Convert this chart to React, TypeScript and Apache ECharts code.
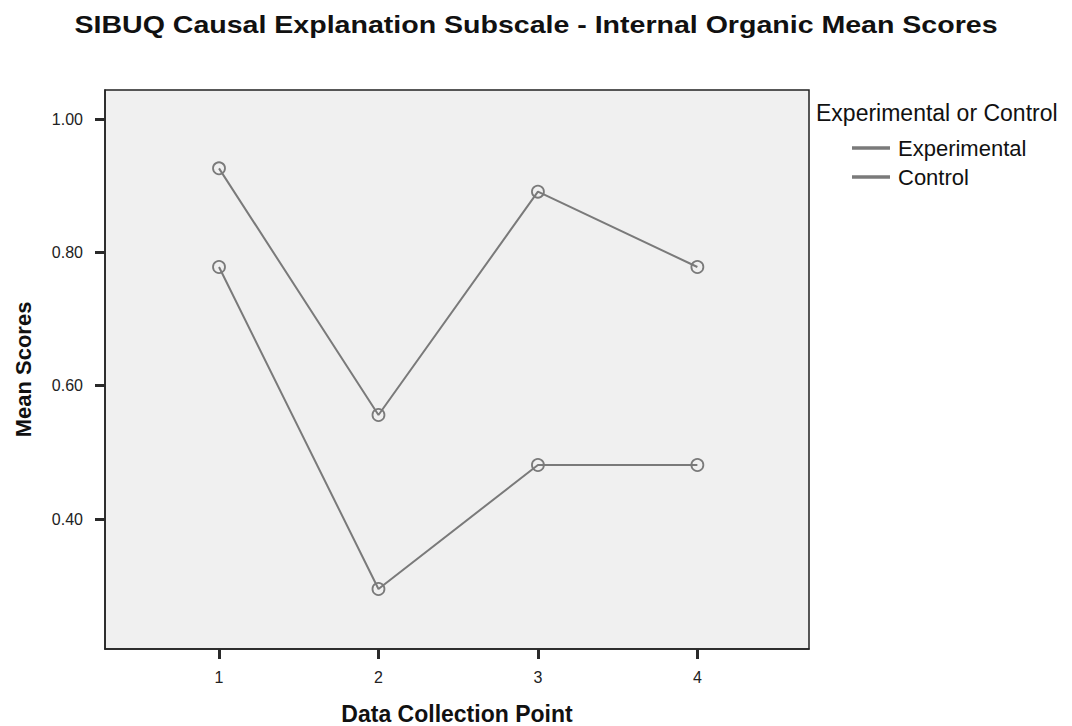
import React, { useEffect, useRef } from "react";
import * as echarts from "echarts";

const titleText = "SIBUQ Causal Explanation Subscale - Internal Organic Mean Scores";
const legendTitle = "Experimental or Control";
const xName = "Data Collection Point";
const yName = "Mean Scores";
const points = [1, 2, 3, 4];
const experimental = [0.778, 0.295, 0.481, 0.481];
const control = [0.926, 0.556, 0.891, 0.778];
const yTicks = [0.4, 0.6, 0.8, 1.0];
const xTicks = [1, 2, 3, 4];
const X_MIN = 0.285;
const X_MAX = 4.7;
const Y_MIN = 0.205;
const Y_MAX = 1.0435;

const FONT = "Liberation Sans, Arial, sans-serif";
const LINE = "#7a7a7a";
const AXIS = "#222";
const TICK = "#2a2a2a";

export default function App() {
  const ref = useRef<HTMLDivElement>(null);
  useEffect(() => {
    if (!ref.current) return;
    const chart = echarts.init(ref.current, null, { renderer: "svg" });
    const mk = (name: string, vals: number[]) => ({
      name,
      type: "line",
      data: points.map((p, i) => [p, vals[i]]),
      symbol: "circle",
      symbolSize: 12,
      lineStyle: { color: LINE, width: 2 },
      itemStyle: { color: "rgba(0,0,0,0)", borderColor: LINE, borderWidth: 1.8 },
      emphasis: { disabled: true },
      z: 3,
    });
    chart.setOption({
      animation: false,
      backgroundColor: "#ffffff",
      textStyle: { fontFamily: FONT },
      title: {
        text: legendTitle,
        left: 811,
        top: 96,
        textStyle: { fontSize: 23, fontWeight: "normal", color: "#111", fontFamily: FONT },
      },
      graphic: [
        {
          id: "mainTitle",
          type: "text",
          x: 536,
          y: 25,
          scaleX: 1.19,
          style: {
            text: titleText,
            fill: "#111",
            font: "bold 24px " + FONT,
            textAlign: "center",
            textVerticalAlign: "middle",
          },
        },
      ],
      legend: {
        orient: "vertical",
        left: 847,
        top: 132,
        itemGap: 7,
        itemWidth: 36,
        itemHeight: 1.6,
        icon: "rect",
        data: [
          { name: "Experimental", itemStyle: { color: LINE } },
          { name: "Control", itemStyle: { color: LINE } },
        ],
        textStyle: { fontSize: 22, color: "#111", fontFamily: FONT, padding: [0, 0, 0, 4] },
        selectedMode: false,
      },
      grid: {
        left: 105,
        top: 90,
        right: 263,
        bottom: 77,
        outerBoundsMode: "none",
        containLabel: false,
        show: true,
        backgroundColor: "#f0f0f0",
        borderColor: AXIS,
        borderWidth: 1.5,
      },
      xAxis: {
        type: "value",
        min: X_MIN,
        max: X_MAX,
        name: xName,
        nameLocation: "middle",
        nameGap: 53,
        nameTextStyle: { fontSize: 23, fontWeight: "bold", color: "#111", fontFamily: FONT },
        axisLine: { show: true, onZero: false, lineStyle: { color: AXIS, width: 1.5 } },
        axisTick: { show: true, length: 10, lineStyle: { color: TICK, width: 3 }, customValues: xTicks },
        axisLabel: { fontSize: 16, color: "#222", margin: 20, customValues: xTicks, formatter: (v: number) => String(v) },
        splitLine: { show: false },
      },
      yAxis: {
        type: "value",
        min: Y_MIN,
        max: Y_MAX,
        name: yName,
        nameLocation: "middle",
        nameGap: 71,
        nameRotate: 90,
        nameTextStyle: { fontSize: 22, fontWeight: "bold", color: "#111", fontFamily: FONT },
        axisLine: { show: true, onZero: false, lineStyle: { color: AXIS, width: 1.5 } },
        axisTick: { show: true, length: 10, lineStyle: { color: TICK, width: 3 }, customValues: yTicks },
        axisLabel: { fontSize: 16, color: "#222", margin: 22, customValues: yTicks, formatter: (v: number) => v.toFixed(2) },
        splitLine: { show: false },
      },
      series: [mk("Experimental", experimental), mk("Control", control)],
    });
    return () => chart.dispose();
  }, []);
  return (
    <div
      ref={ref}
      style={{ position: "fixed", left: 0, top: 0, width: 1072, height: 726 }}
    />
  );
}
